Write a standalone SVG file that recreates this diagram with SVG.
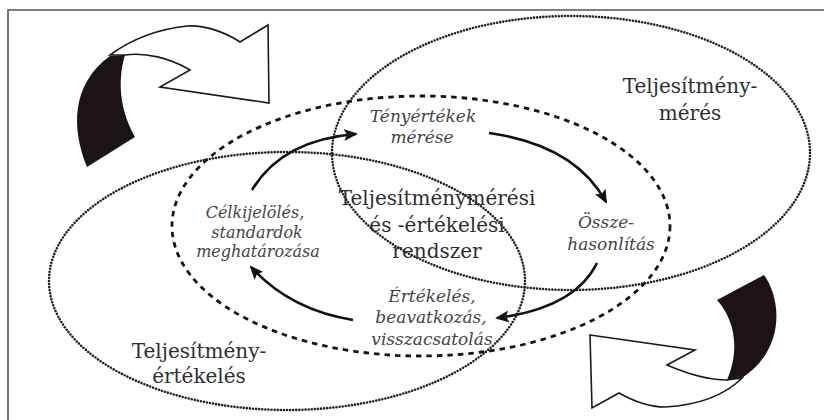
<svg xmlns="http://www.w3.org/2000/svg" width="824" height="420" viewBox="0 0 824 420">
  <style>
    .frame { stroke: #555; stroke-width: 1.6; fill: none; }
    .dotted { fill: none; stroke: #222; stroke-width: 2.6; stroke-dasharray: 0 3.1; stroke-linecap: round; }
    .dashed { fill: none; stroke: #151515; stroke-width: 2.8; stroke-dasharray: 5.5 5; }
    .flow { fill: none; stroke: #111; stroke-width: 2.6; marker-end: url(#head); }
    .title { font-family: "DejaVu Serif", "Liberation Serif", serif; font-size: 20px; fill: #2e2e2e; text-anchor: middle; }
    .step { font-family: "DejaVu Serif", "Liberation Serif", serif; font-style: italic; font-size: 17px; fill: #444; text-anchor: middle; }
    .step.tight { font-size: 16px; }
    .face { fill: #fff; stroke: #1a1a1a; stroke-width: 1.6; stroke-linejoin: miter; }
    .side { fill: #1c1414; }
  </style>
  <defs>
    <marker id="head" viewBox="0 0 14 12" refX="12" refY="6" markerWidth="14" markerHeight="12" markerUnits="userSpaceOnUse" orient="auto">
      <path d="M0,0 L14,6 L0,12 L3,6 Z" fill="#111"/>
    </marker>
  </defs>

  <!-- border -->
  <path class="frame" d="M8,420 L8,10 L824,10"/>

  <!-- curved 3D arrow, top left -->
  <g id="cycle-arrow-top">
    <path class="face" d="M110,55 C125,44 150,30 187,26 C205,25 225,32 240,42 L268,25 L269,103 L160,87 L190,70 C170,58 145,52 125,55 Z"/>
    <path class="side" d="M110,56 L125,55 C119,75 117,105 135,137 L87,167 C72,130 70,85 110,56 Z"/>
  </g>

  <!-- curved 3D arrow, bottom right -->
  <g id="cycle-arrow-bottom">
    <path class="face" d="M590,335 L695,350 L667,365 C690,375 710,380 727,380 L742,378 C725,395 700,405 665,407 C650,407 635,402 619,393 L592,408 Z"/>
    <path class="side" d="M717,300 L764,275 C782,300 785,350 742,378 L727,380 C740,350 735,320 717,300 Z"/>
  </g>

  <!-- areas -->
  <g id="meres-area">
    <ellipse class="dotted" cx="571" cy="153" rx="239" ry="137"/>
    <text class="title" x="690" y="93">Teljesítmény-</text>
    <text class="title" x="690" y="120">mérés</text>
  </g>

  <g id="ertekeles-area">
    <ellipse class="dotted" cx="287" cy="281" rx="238" ry="129"/>
    <text class="title" x="199" y="358">Teljesítmény-</text>
    <text class="title" x="199" y="383">értékelés</text>
  </g>

  <g id="rendszer">
    <ellipse class="dashed" cx="421" cy="226" rx="249" ry="130"/>
    <text class="title" x="437" y="205">Teljesítménymérési</text>
    <text class="title" x="437" y="232">és -értékelési</text>
    <text class="title" x="437" y="258">rendszer</text>
  </g>

  <!-- cycle steps -->
  <g id="step-meres">
    <text class="step" x="423" y="122">Tényértékek</text>
    <text class="step" x="422" y="143">mérése</text>
  </g>
  <g id="step-osszehasonlitas">
    <text class="step" x="606" y="228">Össze-</text>
    <text class="step" x="611" y="250">hasonlítás</text>
  </g>
  <g id="step-ertekeles">
    <text class="step" x="432" y="302">Értékelés,</text>
    <text class="step" x="431" y="323">beavatkozás,</text>
    <text class="step" x="432" y="345">visszacsatolás</text>
  </g>
  <g id="step-celkijeloles">
    <text class="step tight" x="255" y="218">Célkijelölés,</text>
    <text class="step tight" x="257" y="237.5">standardok</text>
    <text class="step tight" x="258" y="257">meghatározása</text>
  </g>

  <!-- cycle connectors -->
  <g id="connectors">
    <path class="flow" d="M252,190 Q282,140 356,134"/>
    <path class="flow" d="M489,133 Q575,145 606,202"/>
    <path class="flow" d="M597,263 Q575,308 497,318"/>
    <path class="flow" d="M353,320 Q290,310 251,267"/>
  </g>
</svg>
